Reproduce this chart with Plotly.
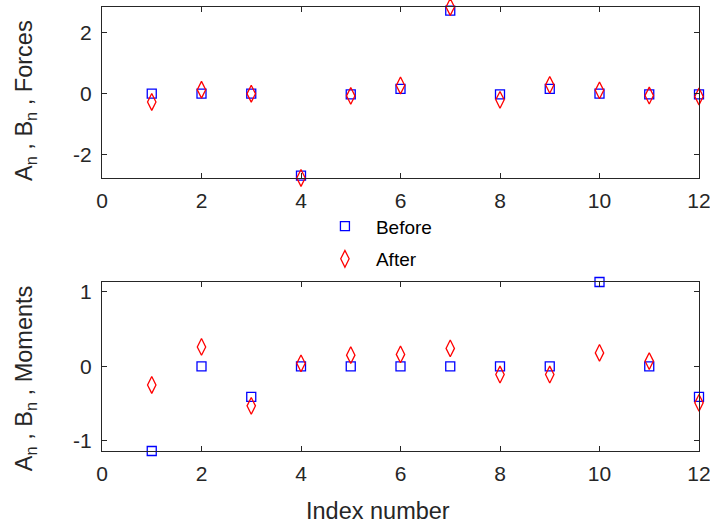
import plotly.graph_objects as go
from plotly.subplots import make_subplots

# Harmonic index
index = list(range(1, 13))

# Force coefficients A_n, B_n
forces_before = [0.0, 0.0, 0.0, -2.68, -0.02, 0.16, 2.72, -0.02, 0.16, 0.0, -0.02, -0.02]
forces_after = [-0.27, 0.13, 0.0, -2.76, -0.07, 0.27, 2.84, -0.20, 0.29, 0.11, -0.06, -0.09]

# Moment coefficients A_n, B_n
moments_before = [-1.135, 0.0, -0.41, 0.0, 0.0, 0.0, 0.0, 0.0, 0.0, 1.13, 0.0, -0.41]
moments_after = [-0.25, 0.26, -0.53, 0.04, 0.15, 0.16, 0.24, -0.11, -0.11, 0.18, 0.07, -0.49]

x_ticks = [0, 2, 4, 6, 8, 10, 12]
x_labels = ["0", "2", "4", "6", "8", "10", "12"]
forces_ticks = [-2, 0, 2]
forces_labels = ["-2", "0", "2"]
moments_ticks = [-1, 0, 1]
moments_labels = ["-1", "0", "1"]

INK = "#262626"
FONT = "Liberation Sans, Arial, sans-serif"

fig = make_subplots(rows=2, cols=1, vertical_spacing=0.0)

def add_pair(before, after, row, show):
    fig.add_trace(go.Scatter(
        x=index, y=before, mode="markers", name="Before",
        legendgroup="before", showlegend=show, cliponaxis=False,
        marker=dict(symbol="square-open", size=9, color="#0000ff",
                    line=dict(width=1.3, color="#0000ff")),
    ), row=row, col=1)
    fig.add_trace(go.Scatter(
        x=index, y=after, mode="markers", name="After",
        legendgroup="after", showlegend=show, cliponaxis=False,
        marker=dict(symbol="diamond-tall-open", size=12, color="#ff0000",
                    line=dict(width=1.3, color="#ff0000")),
    ), row=row, col=1)

add_pair(forces_before, forces_after, 1, True)
add_pair(moments_before, moments_after, 2, False)

axis_style = dict(
    showline=True, linecolor=INK, linewidth=1, mirror="ticks",
    ticks="inside", ticklen=5, tickcolor=INK, tickwidth=1,
    showgrid=False, zeroline=False, ticklabeloverflow="allow",
    automargin=False,
    tickfont=dict(family=FONT, size=21, color=INK),
)

f_lo, f_hi = min(forces_before + forces_after), max(forces_before + forces_after)
m_lo, m_hi = min(moments_before + moments_after), max(moments_before + moments_after)

fig.update_xaxes(range=[0, 12], tickvals=x_ticks, ticktext=x_labels,
                 ticklabelstandoff=4, **axis_style)
fig.update_yaxes(ticklabelstandoff=5, **axis_style)
fig.update_yaxes(range=[f_lo, f_hi], tickvals=forces_ticks, ticktext=forces_labels,
                 domain=[0.6149, 1.0], row=1, col=1)
fig.update_yaxes(range=[m_lo, m_hi], tickvals=moments_ticks, ticktext=moments_labels,
                 domain=[0.0, 0.3806], row=2, col=1)

title_font = dict(family=FONT, size=23.5, color=INK)
fig.add_annotation(text="Index number", xref="paper", yref="paper",
                   x=0.4623, y=-0.135, showarrow=False, font=title_font,
                   xanchor="center", yanchor="middle")
fig.add_annotation(text="A<sub>n</sub> , B<sub>n</sub> , Forces", xref="paper", yref="paper",
                   x=-0.129, y=0.7905, showarrow=False, font=title_font, textangle=-90,
                   xanchor="center", yanchor="middle")
fig.add_annotation(text="A<sub>n</sub> , B<sub>n</sub> , Moments", xref="paper", yref="paper",
                   x=-0.129, y=0.164, showarrow=False, font=title_font, textangle=-90,
                   xanchor="center", yanchor="middle")

fig.update_layout(
    width=710, height=529,
    margin=dict(l=102, r=11, t=7, b=78),
    paper_bgcolor="white", plot_bgcolor="white",
    font=dict(family=FONT, color=INK),
    showlegend=True,
    legend=dict(
        x=0.355, y=0.549, xanchor="left", yanchor="top",
        bgcolor="rgba(0,0,0,0)", borderwidth=0,
        font=dict(family=FONT, size=19, color="#000000"),
        itemwidth=52, tracegroupgap=5, traceorder="grouped",
    ),
)

fig.write_html("out.html")
